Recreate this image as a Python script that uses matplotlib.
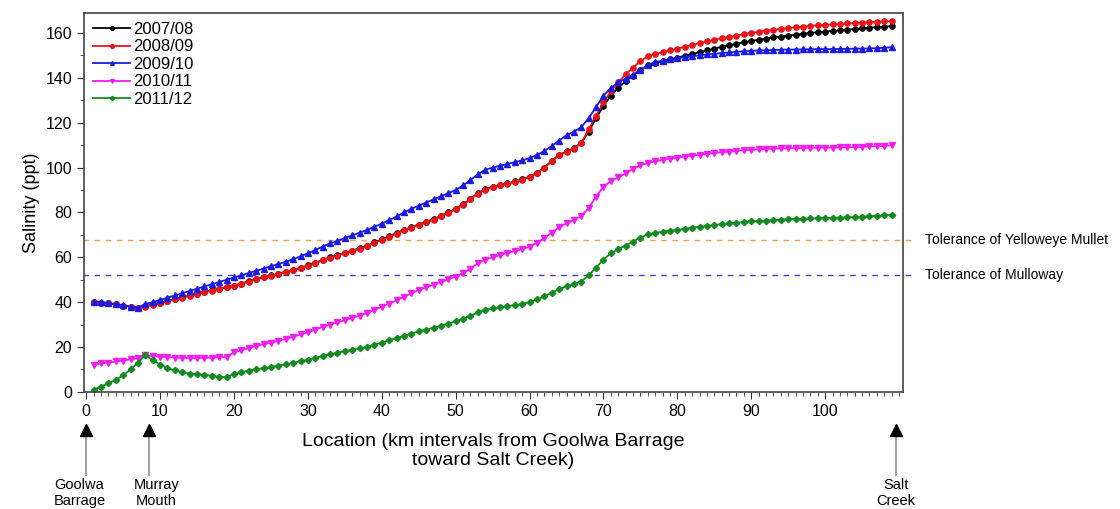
import matplotlib
matplotlib.use("Agg")
import matplotlib.pyplot as plt
from matplotlib.ticker import MultipleLocator, FixedLocator
import matplotlib.transforms as mtransforms

plt.rcParams['font.family'] = ['Liberation Sans', 'DejaVu Sans']

# distance from Goolwa Barrage (km), one sample per km
km = list(range(1, 110))

sal_0708 = [40.0, 39.8, 39.5, 39.0, 38.5, 38.0, 37.6, 38.2, 39.0, 39.8,
            40.6, 41.4, 42.2, 43.0, 43.8, 44.6, 45.3, 46.0, 46.7, 47.4,
            48.3, 49.4, 50.4, 51.2, 51.9, 52.7, 53.6, 54.4, 55.3, 56.4,
            57.6, 58.8, 60.0, 61.0, 62.0, 63.0, 64.0, 65.2, 66.6, 68.0,
            69.4, 70.8, 72.2, 73.4, 74.6, 75.8, 77.0, 78.4, 80.0, 81.6,
            83.6, 86.0, 88.6, 90.4, 91.4, 92.2, 93.0, 93.8, 94.8, 96.0,
            97.6, 100.0, 103.0, 105.6, 107.2, 108.6, 111.0, 116.0, 122.0, 127.5,
            132.0, 135.5, 138.5, 141.0, 143.5, 145.5, 146.6, 147.4, 148.2, 149.0,
            149.8, 150.6, 151.4, 152.2, 153.0, 153.8, 154.5, 155.2, 155.8, 156.4,
            157.0, 157.5, 158.0, 158.4, 158.8, 159.2, 159.6, 160.0, 160.3, 160.6,
            160.9, 161.2, 161.5, 161.8, 162.0, 162.3, 162.6, 162.8, 163.0]

sal_0809 = [40.0, 39.8, 39.5, 39.0, 38.5, 38.0, 37.6, 38.0, 38.8, 39.6,
            40.4, 41.2, 42.0, 42.8, 43.6, 44.4, 45.2, 45.9, 46.6, 47.3,
            48.2, 49.2, 50.2, 51.0, 51.8, 52.6, 53.4, 54.3, 55.2, 56.2,
            57.4, 58.6, 59.8, 60.8, 61.8, 62.8, 63.8, 65.0, 66.4, 67.8,
            69.2, 70.6, 72.0, 73.2, 74.4, 75.6, 76.8, 78.2, 79.8, 81.4,
            83.4, 85.8, 88.4, 90.2, 91.2, 92.0, 92.8, 93.6, 94.6, 95.8,
            97.4, 99.8, 102.8, 105.4, 107.0, 108.4, 111.0, 117.0, 123.0, 129.0,
            134.0, 138.0, 141.5, 144.5, 147.5, 149.5, 150.6, 151.4, 152.2, 153.0,
            153.8, 154.6, 155.4, 156.2, 156.9, 157.6, 158.2, 158.8, 159.4, 160.0,
            160.5, 161.0, 161.4, 161.8, 162.2, 162.5, 162.8, 163.1, 163.4, 163.6,
            163.8, 164.0, 164.2, 164.4, 164.6, 164.8, 165.0, 165.1, 165.2]

sal_0910 = [40.2, 40.0, 39.6, 39.2, 38.6, 38.0, 37.6, 39.2, 40.0, 41.0,
            42.0, 43.0, 44.0, 45.0, 46.0, 47.0, 48.0, 49.0, 50.0, 51.0,
            52.0, 53.0, 54.0, 55.0, 56.0, 57.0, 58.0, 59.2, 60.4, 61.8,
            63.2, 64.8, 66.2, 67.4, 68.6, 69.8, 71.0, 72.2, 73.6, 75.0,
            76.6, 78.2, 80.0, 81.6, 83.0, 84.4, 85.8, 87.2, 88.6, 90.0,
            92.0, 94.4, 97.0, 99.0, 100.0, 100.8, 101.6, 102.4, 103.2, 104.2,
            105.6, 107.4, 109.6, 112.0, 114.4, 116.0, 118.0, 122.0, 127.0, 132.0,
            135.5, 138.0, 139.6, 141.4, 143.6, 145.6, 147.0, 147.6, 148.2, 148.7,
            149.2, 149.6, 150.0, 150.4, 150.7, 151.0, 151.3, 151.6, 151.8, 152.0,
            152.2, 152.3, 152.4, 152.5, 152.6, 152.6, 152.7, 152.7, 152.8, 152.8,
            152.8, 152.9, 152.9, 153.0, 153.0, 153.1, 153.2, 153.4, 153.6]

sal_1011 = [12.2, 12.7, 13.1, 13.6, 14.0, 14.5, 15.0, 16.3, 16.0, 15.7,
            15.5, 15.3, 15.2, 15.1, 15.1, 15.2, 15.3, 15.4, 15.6, 17.6,
            18.6, 19.6, 20.5, 21.3, 22.0, 22.8, 23.6, 24.6, 25.6, 26.6,
            27.8, 29.0, 30.0, 31.0, 32.0, 33.0, 34.0, 35.2, 36.6, 38.0,
            39.4, 40.8, 42.4, 44.0, 45.4, 46.6, 47.8, 49.0, 50.2, 51.4,
            53.0, 55.0, 57.4, 59.0, 60.0, 61.0, 62.0, 62.8, 63.6, 64.8,
            66.4, 68.6, 71.0, 73.4, 75.2, 76.6, 78.4, 82.0, 87.0, 91.4,
            94.0, 95.6, 97.4, 99.4, 101.0, 102.0, 102.8, 103.4, 104.0, 104.4,
            104.9, 105.3, 105.7, 106.1, 106.5, 106.8, 107.1, 107.4, 107.7, 107.9,
            108.1, 108.3, 108.4, 108.5, 108.6, 108.7, 108.7, 108.8, 108.8, 108.9,
            108.9, 109.0, 109.0, 109.1, 109.2, 109.4, 109.5, 109.7, 109.9]

sal_1112 = [1.0, 2.4, 3.8, 5.4, 7.4, 10.0, 13.0, 16.4, 14.2, 12.2,
            10.6, 9.6, 8.8, 8.2, 7.9, 7.6, 7.2, 6.8, 6.6, 8.0,
            8.8, 9.5, 10.1, 10.6, 11.1, 11.7, 12.3, 13.0, 13.7, 14.4,
            15.2, 16.0, 16.8, 17.5, 18.2, 18.8, 19.4, 20.0, 21.0, 22.0,
            23.0, 24.0, 25.0, 26.0, 27.0, 27.8, 28.6, 29.5, 30.4, 31.4,
            32.6, 34.0, 35.4, 36.6, 37.2, 37.7, 38.2, 38.7, 39.2, 40.0,
            41.2, 42.6, 44.2, 45.8, 47.0, 48.0, 49.2, 52.0, 55.4, 59.0,
            61.8, 63.6, 65.2, 67.0, 68.8, 70.2, 70.9, 71.4, 71.8, 72.2,
            72.7, 73.2, 73.6, 74.0, 74.4, 74.8, 75.1, 75.4, 75.7, 76.0,
            76.2, 76.4, 76.6, 76.8, 77.0, 77.1, 77.2, 77.3, 77.4, 77.5,
            77.6, 77.7, 77.8, 78.0, 78.1, 78.3, 78.5, 78.7, 78.9]

years = ["2007/08", "2008/09", "2009/10", "2010/11", "2011/12"]
series = [sal_0708, sal_0809, sal_0910, sal_1011, sal_1112]
colors = ["black", "#e8141a", "#1a1ae0", "#f01ef0", "#138a1f"]
markers = ["o", "o", "^", "v", "D"]

# tolerance thresholds (ppt)
mullet_tol = 67.8
mulloway_tol = 52.0

# places marked under the x axis
place_km = [0, 8.5, 109.6]
place_names = ["Goolwa\nBarrage", "Murray\nMouth", "Salt\nCreek"]
name_shift = [-0.9, 1.0, 0.0]

fig = plt.figure(figsize=(11.2, 5.09), dpi=100)
ax = fig.add_axes([0.075, 0.23, 0.731, 0.745])

for name, vals, c, m in zip(years, series, colors, markers):
    ms = 3.2 if m == "D" else 3.8
    ax.plot(km, vals, color=c, marker=m, markersize=ms, linewidth=1.3,
            label=name)

xmax_line = 112
ax.plot([-0.4, xmax_line], [mullet_tol, mullet_tol], linestyle=(0, (4, 4)),
        color="#f0a050", linewidth=1.0, clip_on=False, zorder=1)
ax.plot([-0.4, xmax_line], [mulloway_tol, mulloway_tol], linestyle=(0, (4, 4)),
        color="#4040d0", linewidth=1.0, clip_on=False, zorder=1)
ax.text(113.5, mullet_tol, "Tolerance of Yelloweye Mullet", fontsize=10,
        va="center", ha="left", clip_on=False)
ax.text(113.5, mulloway_tol, "Tolerance of Mulloway", fontsize=10,
        va="center", ha="left", clip_on=False)

ax.set_xlim(-0.3, 110.5)
ax.set_ylim(0, 169)
ax.xaxis.set_major_locator(FixedLocator(range(0, 101, 10)))
ax.xaxis.set_minor_locator(MultipleLocator(1))
ax.yaxis.set_major_locator(MultipleLocator(20))
ax.yaxis.set_minor_locator(MultipleLocator(10))
ax.tick_params(which="major", direction="out", length=5, labelsize=11.5,
               color="#333333")
ax.tick_params(which="minor", direction="out", length=3, color="#333333")
for s in ax.spines.values():
    s.set_color("#444444")
    s.set_linewidth(1.2)

ax.set_ylabel("Salinity (ppt)", fontsize=13)
ax.set_xlabel("Location (km intervals from Goolwa Barrage\ntoward Salt Creek)",
              fontsize=14, labelpad=10)

ax.legend(loc="upper left", frameon=False, fontsize=12,
          handlelength=2.2, handletextpad=0.2, labelspacing=0.15,
          borderaxespad=0.25, borderpad=0.3, markerscale=0.7)

# arrows pointing at the places along the river
trans = mtransforms.blended_transform_factory(ax.transData, ax.transAxes)
for xk, name, dx in zip(place_km, place_names, name_shift):
    ax.plot([xk, xk], [-0.105, -0.22], color="#999999", linewidth=1.3,
            transform=trans, clip_on=False)
    ax.plot([xk], [-0.1], marker="^", color="black", markersize=8,
            transform=trans, clip_on=False)
    ax.text(xk + dx, -0.228, name, transform=trans, ha="center", va="top",
            fontsize=10.5, clip_on=False, linespacing=1.15)

fig.savefig("out.png", dpi=100)
